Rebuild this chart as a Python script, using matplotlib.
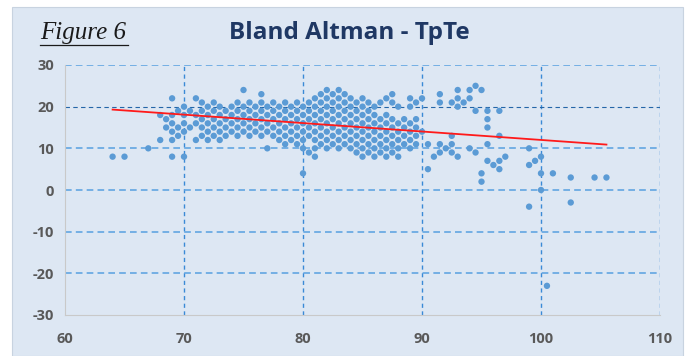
import matplotlib.pyplot as plt
from matplotlib.lines import Line2D

plt.rcParams['axes.unicode_minus'] = False

# Bland Altman data, one column per mean value (x), with the differences (y) in it
col_x = [64, 65, 67, 68, 68.5, 69, 69.5, 70, 70.5, 71, 71.5, 72, 72.5, 73, 73.5,
         74, 74.5, 75, 75.5, 76, 76.5, 77, 77.5, 78, 78.5, 79, 79.5, 80, 80.5,
         81, 81.5, 82, 82.5, 83, 83.5, 84, 84.5, 85, 85.5, 86, 86.5, 87, 87.5,
         88, 88.5, 89, 89.5, 90, 90.5, 91, 91.5, 92, 92.5, 93, 93.5, 94, 94.5,
         95, 95.5, 96, 96.5, 97, 99, 99.5, 100, 100.5, 101, 102.5, 104.5, 105.5]
col_diffs = [
    [8], [8], [10], [18, 12], [17, 15],
    [22, 18, 16, 14, 12, 8], [19, 15, 13], [20, 18, 16, 14, 8], [19, 15],
    [22, 18, 16, 12], [21, 19, 17, 15, 13], [20, 18, 16, 14, 12],
    [21, 19, 17, 15, 13], [20, 18, 16, 14, 12], [19, 17, 15, 13],
    [20, 18, 16, 14], [21, 19, 17, 15, 13], [24, 20, 18, 16, 14],
    [21, 19, 17, 15, 13], [20, 18, 16, 14], [23, 21, 19, 17, 15, 13],
    [20, 18, 16, 14, 10], [21, 19, 17, 15, 13], [20, 18, 16, 14, 12],
    [21, 19, 17, 15, 13, 11], [20, 18, 16, 14, 12], [21, 19, 17, 15, 13, 11],
    [20, 18, 16, 14, 12, 10, 4], [21, 19, 17, 15, 13, 9],
    [22, 20, 18, 16, 14, 12, 10, 8], [23, 21, 19, 17, 15, 13, 11],
    [24, 22, 20, 18, 16, 14, 12, 10], [23, 21, 19, 17, 15, 13, 11],
    [24, 22, 20, 18, 16, 14, 12, 10], [23, 21, 19, 17, 15, 13, 11],
    [22, 20, 18, 16, 14, 12, 10], [21, 19, 17, 15, 13, 11, 9],
    [22, 20, 18, 16, 14, 12, 10, 8], [21, 19, 17, 15, 13, 11, 9],
    [20, 18, 16, 14, 12, 10, 8], [21, 17, 15, 13, 11, 9],
    [22, 18, 16, 14, 12, 10, 8], [23, 21, 17, 15, 13, 11, 9],
    [20, 16, 14, 12, 10, 8], [17, 15, 13, 11], [22, 20, 16, 14, 12, 10],
    [21, 17, 15, 13, 11], [22, 14], [11, 5], [8], [23, 21, 11, 9], [10],
    [21, 13, 11, 9], [24, 22, 20, 8], [21], [24, 22, 10], [25, 19, 9],
    [24, 4, 2], [19, 17, 15, 11, 7], [6], [19, 13, 7, 5], [8], [10, 6, -4],
    [7], [8, 4, 0], [-23], [4], [3, -3], [3], [3],
]

# trend line end points
trend_x = [64, 105.5]
trend_y = [19.3, 10.9]

xs, ys = [], []
for x, dl in zip(col_x, col_diffs):
    for d in dl:
        xs.append(x)
        ys.append(d)

bg = "#dde7f3"
fig = plt.figure(figsize=(6.88, 3.56), dpi=100, facecolor="white")
fig.patches.append(plt.Rectangle((12 / 688, 0), 671 / 688, 1 - 7 / 356,
                                 transform=fig.transFigure, facecolor=bg,
                                 edgecolor="#c8d3e0", linewidth=0.8, zorder=-10))

ax = fig.add_axes([65 / 688, 1 - 315 / 356, 595 / 688, 250 / 356])
ax.set_zorder(2)
ax.set_facecolor(bg)
ax.set_xlim(60, 110)
ax.set_ylim(-30, 30)
ax.set_xticks(range(60, 111, 10))
ax.set_yticks(range(-30, 31, 10))

for v in range(70, 111, 10):
    ax.axvline(v, color="#3a8ad6", lw=1.0, ls=(0, (3, 2.5)), zorder=1)
for v in range(-20, 31, 10):
    if v == 20:
        ax.axhline(v, color="#2466a8", lw=0.8, ls=(0, (4, 3)), zorder=1)
    else:
        ax.axhline(v, color="#62a5e2", lw=1.2, ls=(0, (4, 2.5)), zorder=1)

for s in ["top", "right"]:
    ax.spines[s].set_visible(False)
for s in ["left", "bottom"]:
    ax.spines[s].set_color("#c9c9c9")
    ax.spines[s].set_linewidth(0.8)

ax.tick_params(length=0, pad=8, labelsize=10.5, labelcolor="#595959")
for lab in ax.get_xticklabels() + ax.get_yticklabels():
    lab.set_fontfamily("Open Sans")
    lab.set_fontweight("bold")
ax.tick_params(axis="x", pad=12)

ax.scatter(xs, ys, s=21, color="#5b9bd5", edgecolors="none", zorder=3)
ax.plot(trend_x, trend_y, color="#ff1a1a", lw=1.3, zorder=4)

fig.text(349 / 688, 1 - 33 / 356, "Bland Altman - TpTe", ha="center", va="center",
         fontsize=17.5, fontweight="bold", color="#1f3864", family="Open Sans")
fig.text(40 / 688, 1 - 33 / 356, "Figure 6", ha="left", va="center",
         fontsize=18, style="italic", color="#1a1a1a", family="Liberation Serif")
fig.add_artist(Line2D([40 / 688, 128 / 688], [1 - 45 / 356, 1 - 45 / 356],
                      transform=fig.transFigure, color="#1a1a1a", lw=0.9))

fig.savefig("out.png", dpi=100, facecolor="white")
